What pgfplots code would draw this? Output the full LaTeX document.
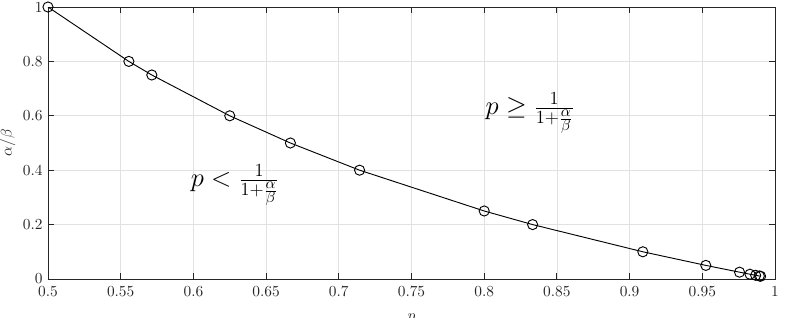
\documentclass[border=0pt]{standalone}
\usepackage{pgfplots}
\pgfplotsset{compat=1.18}
\definecolor{axgray}{RGB}{38,38,38}
\definecolor{gridgray}{RGB}{225,225,225}
\begin{document}
\begin{tikzpicture}
\begin{axis}[name=ax,
  scale only axis, width=472.6pt, height=176.8pt,
  xmin=0.5, xmax=1, ymin=0, ymax=1,
  xtick={0.5,0.55,...,1.001}, ytick={0,0.2,...,1.001},
  xticklabels={0.5,0.55,0.6,0.65,0.7,0.75,0.8,0.85,0.9,0.95,1},
  yticklabels={0,0.2,0.4,0.6,0.8,1},
  tick align=inside, major tick length=4pt,
  grid=major, major grid style={gridgray, line width=0.5pt},
  axis line style={axgray, line width=0.6pt},
  tick style={axgray, line width=0.6pt},
  ticklabel style={text=axgray, font=\normalsize},
  xticklabel style={yshift=-1pt},
  xlabel={$p$}, ylabel={$\alpha/\beta$},
  xlabel style={text=axgray, yshift=-4pt},
  ylabel style={text=axgray, yshift=-2pt},
]
\addplot[black, line width=0.6pt, mark=o, mark size=3.3pt, mark options={line width=0.6pt}] coordinates {
 (0.5,1) (0.5556,0.8) (0.5714,0.75) (0.625,0.6) (0.6667,0.5) (0.7143,0.4)
 (0.8,0.25) (0.8333,0.2) (0.9091,0.1) (0.9524,0.05) (0.9756,0.025)
 (0.9828,0.0175) (0.9867,0.0135) (0.9892,0.011) (0.9901,0.01)
};
\node at (axis cs:0.8315,0.61) {\LARGE $p \geq \frac{1}{1+\frac{\alpha}{\beta}}$};
\node at (axis cs:0.6286,0.346) {\LARGE $p < \frac{1}{1+\frac{\alpha}{\beta}}$};
\end{axis}
\pgfresetboundingbox
\path ([xshift=-31.2pt,yshift=-25.35pt]ax.south west) rectangle ([xshift=9.1pt,yshift=4.55pt]ax.north east);
\end{tikzpicture}
\end{document}
